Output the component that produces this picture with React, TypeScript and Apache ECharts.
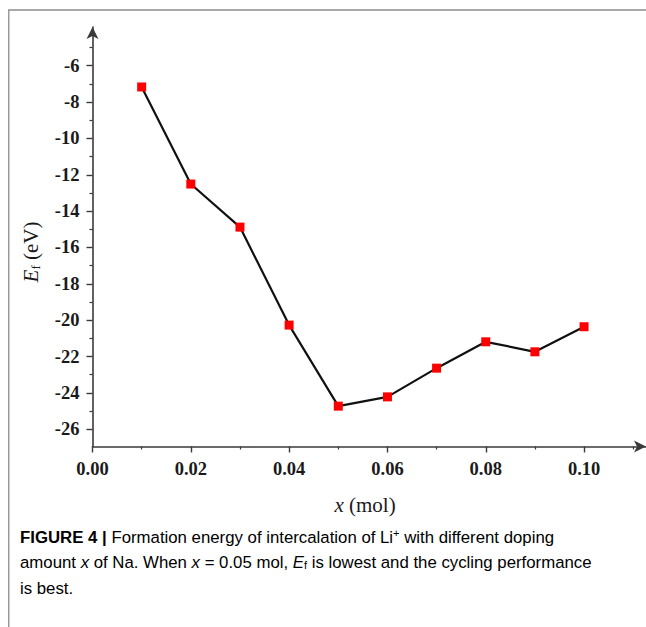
import React, { useEffect, useRef } from "react";
import * as echarts from "echarts";

const xValues = [0.01, 0.02, 0.03, 0.04, 0.05, 0.06, 0.07, 0.08, 0.09, 0.1];
const yValues = [-7.17, -12.51, -14.88, -20.27, -24.73, -24.22, -22.64, -21.19, -21.74, -20.36];
const xMajorTicks = [0, 0.02, 0.04, 0.06, 0.08, 0.1];
const xMinorTicks = [0.01, 0.03, 0.05, 0.07, 0.09, 0.11];
const yMajorTicks = [-26, -24, -22, -20, -18, -16, -14, -12, -10, -8, -6];
const yMinorTicks = [-25, -23, -21, -19, -17, -15, -13, -11, -9, -7, -5];

const SERIF = "'Liberation Serif', 'Times New Roman', serif";
const SANS = "'Liberation Sans', Arial, sans-serif";
const AXIS_COLOR = "#3a3a3a";

export default function App() {
  const ref = useRef<HTMLDivElement>(null);
  useEffect(() => {
    if (!ref.current) return;
    const chart = echarts.init(ref.current, undefined, { renderer: "svg" });
    const xMin = 0;
    const xMax = 0.1126;
    const yMin = -26.95;
    const yMax = -3.87;
    const labelStyle = {
      fontFamily: SERIF,
      fontWeight: "bold" as const,
      fontSize: 18.5,
      color: "#1a1a1a",
    };
    const CF = 16.8;
    const captionRich = {
      n: { fontFamily: SANS, fontSize: CF, color: "#222", lineHeight: 25 },
      b: { fontFamily: SANS, fontSize: CF, fontWeight: "bold", color: "#222", lineHeight: 25 },
      i: { fontFamily: SANS, fontSize: CF, fontStyle: "italic", color: "#222", lineHeight: 25 },
      sup: { fontFamily: SANS, fontSize: 11, color: "#222", verticalAlign: "top", lineHeight: 25, padding: [3, 0, 0, 0] },
      sub: { fontFamily: SANS, fontSize: 11, color: "#222", verticalAlign: "bottom", lineHeight: 25, padding: [0, 0, 4, 0] },
    };
    chart.setOption({
      animation: false,
      backgroundColor: "#ffffff",
      grid: { left: 92.5, right: -2, top: 27, bottom: 180.5, containLabel: false },
      xAxis: [
        {
          type: "value",
          min: xMin,
          max: xMax,
          position: "bottom",
          axisLine: {
            show: true,
            onZero: false,
            symbol: ["none", "arrow"],
            symbolSize: [9, 12],
            lineStyle: { color: AXIS_COLOR, width: 1.6 },
          },
          axisTick: {
            show: true,
            length: 6,
            customValues: xMajorTicks,
            lineStyle: { color: AXIS_COLOR, width: 1.4 },
          },
          axisLabel: {
            show: true,
            margin: 13,
            customValues: xMajorTicks,
            formatter: (v: number) => v.toFixed(2),
            ...labelStyle,
          },
          splitLine: { show: false },
        },
        {
          type: "value",
          min: xMin,
          max: xMax,
          position: "bottom",
          axisLine: { show: false, onZero: false },
          axisTick: {
            show: true,
            length: 3,
            customValues: xMinorTicks,
            lineStyle: { color: AXIS_COLOR, width: 1.2 },
          },
          axisLabel: { show: false },
          splitLine: { show: false },
        },
      ],
      yAxis: [
        {
          type: "value",
          min: yMin,
          max: yMax,
          position: "left",
          axisLine: {
            show: true,
            onZero: false,
            symbol: ["none", "arrow"],
            symbolSize: [9, 12],
            lineStyle: { color: AXIS_COLOR, width: 1.6 },
          },
          axisTick: {
            show: true,
            length: 6,
            customValues: yMajorTicks,
            lineStyle: { color: AXIS_COLOR, width: 1.4 },
          },
          axisLabel: {
            show: true,
            margin: 13,
            customValues: yMajorTicks,
            formatter: (v: number) => String(v),
            ...labelStyle,
          },
          splitLine: { show: false },
        },
        {
          type: "value",
          min: yMin,
          max: yMax,
          position: "left",
          axisLine: { show: false, onZero: false },
          axisTick: {
            show: true,
            length: 3,
            customValues: yMinorTicks,
            lineStyle: { color: AXIS_COLOR, width: 1.2 },
          },
          axisLabel: { show: false },
          splitLine: { show: false },
        },
      ],
      series: [
        {
          type: "line",
          xAxisIndex: 0,
          yAxisIndex: 0,
          data: xValues.map((x, i) => [x, yValues[i]]),
          symbol: "rect",
          symbolSize: 9,
          showSymbol: true,
          itemStyle: { color: "#ff0000" },
          lineStyle: { color: "#111111", width: 2.2 },
          z: 3,
        },
      ],
      graphic: [
        {
          type: "line",
          shape: { x1: 8, y1: 10, x2: 646, y2: 10 },
          style: { stroke: "#8c8c8c", lineWidth: 1.5 },
          silent: true,
        },
        {
          type: "line",
          shape: { x1: 8.75, y1: 10, x2: 8.75, y2: 627 },
          style: { stroke: "#9a9a9a", lineWidth: 1.5 },
          silent: true,
        },
        {
          type: "text",
          x: 31,
          y: 252,
          rotation: Math.PI / 2,
          style: {
            text: "{i|E}{s|f}{n| (eV)}",
            align: "center",
            verticalAlign: "middle",
            rich: {
              i: { fontFamily: SERIF, fontSize: 21, fontStyle: "italic", fill: "#1a1a1a" },
              s: { fontFamily: SERIF, fontSize: 13, fill: "#1a1a1a", verticalAlign: "bottom" },
              n: { fontFamily: SERIF, fontSize: 21, fill: "#1a1a1a" },
            },
          },
        },
        {
          type: "text",
          x: 365,
          y: 505,
          style: {
            text: "{i|x}{n| (mol)}",
            align: "center",
            verticalAlign: "middle",
            rich: {
              i: { fontFamily: SERIF, fontSize: 21, fontStyle: "italic", fill: "#1a1a1a" },
              n: { fontFamily: SERIF, fontSize: 21, fill: "#1a1a1a" },
            },
          },
        },
        {
          type: "text",
          x: 20,
          y: 537,
          style: {
            text: "{b|FIGURE 4 |}{n| Formation energy of intercalation of Li}{sup|+}{n| with different doping}",
            verticalAlign: "middle",
            rich: captionRich,
          },
        },
        {
          type: "text",
          x: 20,
          y: 562,
          style: {
            text: "{n|amount }{i|x}{n| of Na. When }{i|x}{n| = 0.05 mol, }{i|E}{sub|f}{n| is lowest and the cycling performance}",
            verticalAlign: "middle",
            rich: captionRich,
          },
        },
        {
          type: "text",
          x: 20,
          y: 588,
          style: {
            text: "{n|is best.}",
            verticalAlign: "middle",
            rich: captionRich,
          },
        },
      ],
    });
    return () => chart.dispose();
  }, []);
  return (
    <div
      ref={ref}
      style={{ position: "fixed", left: 0, top: 0, width: 646, height: 627, background: "#fff" }}
    />
  );
}
